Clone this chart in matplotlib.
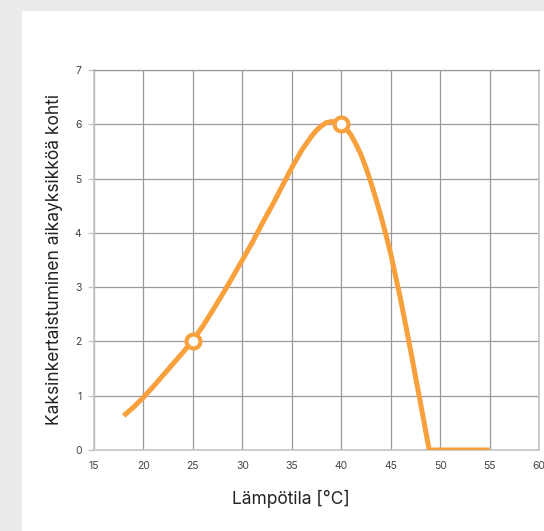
import numpy as np
import matplotlib.pyplot as plt
from matplotlib.patches import Rectangle

plt.rcParams['font.family'] = ['Inter', 'DejaVu Sans']

# curve
temp = [18, 19, 20, 21, 22, 23, 24, 25, 26, 27, 28, 29, 30, 31, 32, 33, 34, 35,
        36, 37, 37.5, 38, 38.5, 39, 39.5, 40, 40.5, 41, 41.5, 42, 42.5, 43, 43.5,
        44, 44.5, 45, 46, 47, 48, 48.9, 55]
rate = [0.63, 0.79, 0.97, 1.17, 1.38, 1.59, 1.8, 2.02, 2.28, 2.57, 2.87, 3.18, 3.5,
        3.82, 4.17, 4.5, 4.85, 5.2, 5.52, 5.78, 5.89, 5.97, 6.03, 6.05, 6.04, 6.0,
        5.92, 5.8, 5.63, 5.44, 5.2, 4.93, 4.63, 4.32, 3.98, 3.62, 2.78, 1.85, 0.88,
        0.0, 0.0]
mark_t = [25, 40]
mark_r = [2, 6]

xticks = [15, 20, 25, 30, 35, 40, 45, 50, 55, 60]
yticks = [0, 1, 2, 3, 4, 5, 6, 7]

orange = '#f7a03c'

fig = plt.figure(figsize=(5.44, 5.31), dpi=100)
fig.patch.set_facecolor('#ebebed')
fig.add_artist(Rectangle((22/544, 0), 1, 1 - 11/531, transform=fig.transFigure,
                         facecolor='white', edgecolor='none', zorder=0))

ax = fig.add_axes([94/544, 1 - 450/531, 445/544, 380/531])
ax.set_facecolor('white')
ax.plot(temp, rate, color=orange, lw=3.6, solid_capstyle='butt', solid_joinstyle='round', zorder=3)
ax.plot(mark_t, mark_r, 'o', ms=10, mfc='white', mec=orange, mew=3, zorder=4)

ax.set_xlim(15, 60)
ax.set_ylim(0, 7)
ax.set_xticks(xticks)
ax.set_yticks(yticks)
ax.grid(True, color='#9a9a9a', lw=0.9)
ax.set_axisbelow(True)
for s in ax.spines.values():
    s.set_color('#c4c4c4')
    s.set_linewidth(1.2)
ax.spines['top'].set_color('#9a9a9a')
ax.spines['top'].set_linewidth(0.9)
ax.tick_params(axis='x', length=0, pad=8, labelsize=7.5, labelcolor='#444444')
ax.tick_params(axis='y', length=4, width=1, color='#c4c4c4', pad=5, labelsize=7.5, labelcolor='#444444')

ax.set_xlabel('Lämpötila [°C]', fontsize=12.5, color='#222222')
ax.xaxis.set_label_coords(0.443, -0.105)
ax.set_ylabel('Kaksinkertaistuminen aikayksikköä kohti', fontsize=12.5, color='#222222')
ax.yaxis.set_label_coords(-0.07, 0.5)

fig.savefig('out.png', dpi=100, facecolor=fig.get_facecolor())
